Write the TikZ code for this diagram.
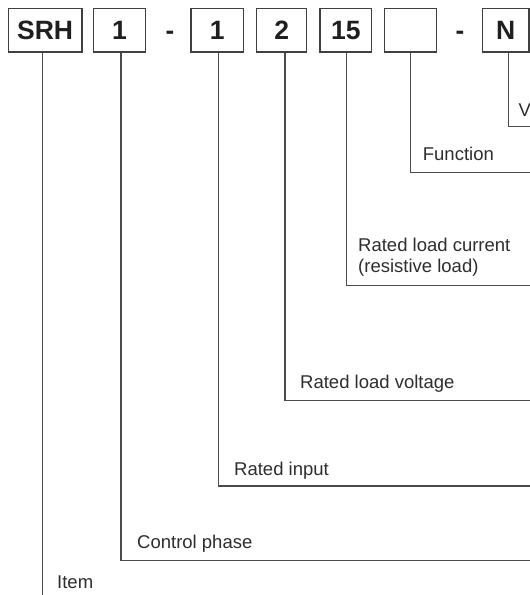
\documentclass[tikz,border=0pt]{standalone}
\usepackage{fontspec}
\setmainfont{Liberation Sans}
\begin{document}
\begin{tikzpicture}[x=1pt,y=-1pt,
  box/.style={draw=black!75, line width=1.3pt, minimum height=43.7pt, inner sep=0pt,
    font=\fontsize{26.5}{30}\selectfont\bfseries, text=black!88},
  hyph/.style={anchor=base, inner sep=0pt, font=\fontsize{26}{30}\selectfont\bfseries, text=black!88},
  conn/.style={draw=black!70, line width=1.2pt},
  lbl/.style={anchor=base west, inner sep=0pt, font=\fontsize{18.5}{20.5}\selectfont, text=black!82}]
\useasboundingbox (0,0) rectangle (530,595);
\fill[white] (0,0) rectangle (530,595);
% code boxes
\node[box, minimum width=73.7pt] (srh) at (45.15,30.15) {SRH};
\node[box, minimum width=52.4pt] (b1) at (119.5,30.15) {1};
\node[hyph] (h1) at (170,39.3) {-};
\node[box, minimum width=52.3pt] (b2) at (217.15,30.15) {1};
\node[box, minimum width=50pt] (b3) at (281.7,30.15) {2};
\node[box, minimum width=51.7pt] (b4) at (345.85,30.15) {15};
\node[box, minimum width=52pt] (b5) at (410.3,30.15) {};
\node[hyph] (h2) at (460,39.3) {-};
\node[box, minimum width=46.7pt] (bN) at (505.65,30.15) {N};
% connector ends
\coordinate (eN) at (531,126.7);
\coordinate (eF) at (531,172.3);
\coordinate (eC) at (531,285.7);
\coordinate (eLV) at (531,400.7);
\coordinate (eRI) at (531,486);
\coordinate (eCP) at (531,560.7);
\coordinate (eI) at (42.5,596);
% connectors
\draw[conn] ([xshift=2.6pt]bN.south) |- (eN);
\draw[conn] (b5.south) |- (eF);
\draw[conn] ([xshift=0.8pt]b4.south) |- (eC);
\draw[conn] ([xshift=3.3pt]b3.south) |- (eLV);
\draw[conn] ([xshift=1.5pt]b2.south) |- (eRI);
\draw[conn] ([xshift=1.5pt]b1.south) |- (eCP);
\draw[conn] ([xshift=-2.65pt]srh.south) -- (eI);
% labels
\node[lbl] (lV) at (518.3,116) {V};
\node[lbl] (lF) at (422.7,160.7) {Function};
\node[lbl, align=left] (lC) at (358,272) {Rated load current\\(resistive load)};
\node[lbl] (lLV) at (300,388.3) {Rated load voltage};
\node[lbl] (lRI) at (234,475) {Rated input};
\node[lbl] (lCP) at (137,548) {Control phase};
\node[lbl] (lI) at (57,588.3) {Item};
\end{tikzpicture}
\end{document}
